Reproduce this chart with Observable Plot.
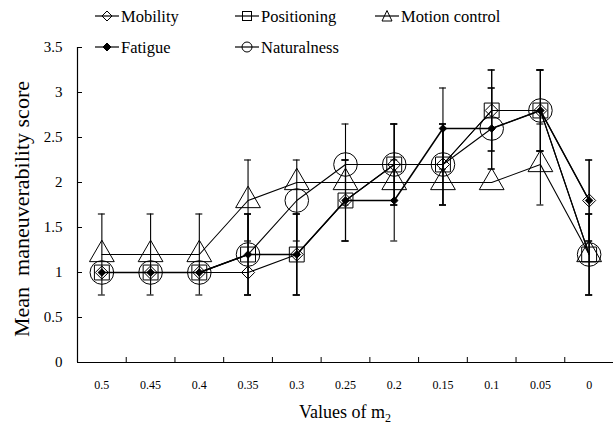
<!DOCTYPE html>
<html><head><meta charset="utf-8">
<script src="https://cdn.jsdelivr.net/npm/d3@7"></script>
<script src="https://cdn.jsdelivr.net/npm/@observablehq/plot@0.6"></script>
<style>
body{margin:0;background:#fff;}
#wrap{position:relative;width:613px;height:432px;font-family:"Liberation Serif";color:#000;}
#wrap > svg{position:absolute;left:0;top:0;}
.leg{position:absolute;display:flex;align-items:center;font-family:"Liberation Serif";font-size:16.5px;white-space:nowrap;line-height:17px;}
.leg svg{display:block;margin-right:2px;}
#ylab{position:absolute;left:22px;top:209px;transform:translate(-50%,-50%) rotate(-90deg);font-family:"Liberation Serif";font-size:22px;white-space:pre;}
#xlab{position:absolute;left:345px;top:412px;transform:translate(-50%,-50%);font-family:"Liberation Serif";font-size:18px;white-space:nowrap;}
#xlab sub{font-size:12px;vertical-align:-4px;line-height:0;}
</style></head><body><div id="wrap"></div>
<script>
const xLabels = ["0.5","0.45","0.4","0.35","0.3","0.25","0.2","0.15","0.1","0.05","0"];
const seriesNames = ["Mobility","Positioning","Motion control","Fatigue","Naturalness"];
const mobility    = [1,1,1,1,1.2,1.8,2.2,2.2,2.8,2.8,1.8];
const positioning = [1,1,1,1.2,1.2,1.8,2.2,2.2,2.8,2.8,1.2];
const motion      = [1.2,1.2,1.2,1.8,2,2,2,2,2,2.2,1.2];
const fatigue     = [1,1,1,1.2,1.2,1.8,1.8,2.6,2.6,2.8,1.8];
const naturalness = [1,1,1,1.2,1.8,2.2,2.2,2.2,2.6,2.8,1.2];
const mobilityErr    = [0,0,0,0,0.45,0.45,0.45,0.45,0.45,0.45,0.45];
const positioningErr = [0,0,0,0.45,0.45,0.45,0.45,0.45,0.45,0.45,0.45];
const motionErr      = [0.45,0.45,0.45,0.45,0,0,0,0,0,0.45,0.45];
const fatigueErr     = [0,0,0,0.45,0.45,0.45,0.45,0.45,0.45,0.45,0.45];
const naturalnessErr = [0,0,0,0.45,0.45,0.45,0.45,0.45,0.45,0.45,0.45];
const yTicks = [0,0.5,1,1.5,2,2.5,3,3.5];

const FONT = "Liberation Serif";
const values = [mobility, positioning, motion, fatigue, naturalness];
const errs = [mobilityErr, positioningErr, motionErr, fatigueErr, naturalnessErr];
const styles = {
  "Mobility":       {symbol:"diamond2", r:5.9, fill:"none", lw:1.1},
  "Positioning":    {symbol:"square",   r:8.4, fill:"none", lw:1.1},
  "Motion control": {symbol:"triangle", r:9.2, fill:"none", lw:1.1},
  "Fatigue":        {symbol:"diamond2", r:3.4, fill:"#000", lw:1.5},
  "Naturalness":    {symbol:"circle",   r:11.8, fill:"none", lw:1.1}
};
const rows = [];
seriesNames.forEach((s, k) => values[k].forEach((v, i) => rows.push({series:s, i, xc:i+0.5, v, e:errs[k][i]})));
const errRows = rows.filter(d => d.e > 0);
const caps = errRows.flatMap(d => [{xc:d.xc, y:d.v + d.e}, {xc:d.xc, y:d.v - d.e}]);

const marks = [
  Plot.ruleX(errRows, {x:"xc", y1:d => d.v - d.e, y2:d => d.v + d.e, stroke:"#000", strokeWidth:1.1}),
  Plot.ruleY(caps, {y:"y", x1:"xc", x2:"xc", insetLeft:-3.5, insetRight:-3.5, stroke:"#000", strokeWidth:1.1}),
];
seriesNames.forEach(s => {
  const st = styles[s];
  const data = rows.filter(d => d.series === s);
  marks.push(Plot.line(data, {x:"xc", y:"v", stroke:"#000", strokeWidth:st.lw}));
});
seriesNames.forEach(s => {
  const st = styles[s];
  const data = rows.filter(d => d.series === s);
  marks.push(Plot.dot(data, {x:"xc", y:"v", symbol:() => st.symbol, r:st.r, stroke:"#000", fill:st.fill, strokeWidth:1}));
});
marks.push(
  Plot.ruleX([0], {stroke:"#000", strokeWidth:1.2}),
  Plot.ruleY([0], {stroke:"#000", strokeWidth:1.2}),
  Plot.axisY({ticks:yTicks, tickSize:-5, tickPadding:20, fontSize:15, fontFamily:FONT, label:null, tickFormat:d => String(d)}),
  Plot.axisX({ticks:d3.range(1,12), tickSize:-5, tickFormat:() => "", label:null}),
  Plot.axisX({ticks:d3.range(0,11).map(i => i + 0.5), tickSize:0, tickPadding:18, fontSize:12, fontFamily:FONT, label:null, tickFormat:t => xLabels[Math.floor(t)]})
);

const chart = Plot.plot({
  width:613, height:432,
  marginLeft:77, marginRight:0, marginTop:47, marginBottom:70,
  x:{domain:[0,11]},
  y:{domain:[0,3.5]},
  style:{fontFamily:FONT, color:"#000", background:"#fff"},
  marks
});
const wrap = document.getElementById("wrap");
wrap.appendChild(chart);

// legend (HTML overlay)
const legPos = {
  "Mobility":       [95, 16],
  "Positioning":    [235, 16],
  "Motion control": [375, 16],
  "Fatigue":        [95, 47],
  "Naturalness":    [235, 47]
};
const legSym = {
  "Mobility": '<path d="M12,2 L17,7 L12,12 L7,7 Z" fill="none" stroke="#000"/>',
  "Positioning": '<rect x="7.5" y="2.5" width="9" height="9" fill="none" stroke="#000"/>',
  "Motion control": '<path d="M12,1.5 L17,12 L7,12 Z" fill="none" stroke="#000"/>',
  "Fatigue": '<path d="M12,3 L16,7 L12,11 L8,7 Z" fill="#000" stroke="#000"/>',
  "Naturalness": '<circle cx="12" cy="7" r="5" fill="none" stroke="#000"/>'
};
seriesNames.forEach(s => {
  const [lx, ly] = legPos[s];
  const el = document.createElement("div");
  el.className = "leg";
  el.style.left = lx + "px";
  el.style.top = (ly - 8.5) + "px";
  el.innerHTML = `<svg width="24" height="14" viewBox="0 0 24 14"><line x1="0" y1="7" x2="24" y2="7" stroke="#000" stroke-width="1.2"/>${legSym[s]}</svg><span style="font-family:'Liberation Serif'">${s}</span>`;
  wrap.appendChild(el);
});
const yl = document.createElement("div");
yl.id = "ylab"; yl.textContent = "Mean  maneuverability score";
wrap.appendChild(yl);
const xl = document.createElement("div");
xl.id = "xlab"; xl.innerHTML = "Values of m<sub>2</sub>";
wrap.appendChild(xl);
</script></body></html>
